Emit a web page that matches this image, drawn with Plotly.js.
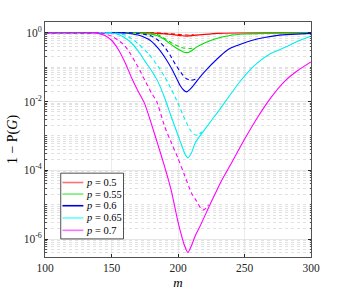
<!DOCTYPE html>
<html><head><meta charset="utf-8">
<script src="https://cdn.plot.ly/plotly-3.0.1.min.js"></script>
<style>html,body{margin:0;padding:0;background:#fff}#c{width:344px;height:290px}</style>
</head><body><div id="c"></div>
<script>
// log10 values of 1 - P(G)
const m_r = [100,175,185,195,203,207,212,220,230,245,300];
const y_r = [0,0,-0.02,-0.05,-0.09,-0.10,-0.08,-0.05,-0.02,-0.01,0];
const m_rd = [100,180,190,200,207,212];
const y_rd = [0,0,-0.02,-0.05,-0.07,-0.06];

const m_g = [100,165,175,184,190,194,198,201.5,204,207,210,214,220,229,239,250,265,300];
const y_g = [0,0,-0.02,-0.08,-0.2,-0.32,-0.43,-0.51,-0.56,-0.58,-0.53,-0.42,-0.3,-0.17,-0.08,-0.04,-0.02,0];
const m_gd = [100,170,180,185,190,195,201.5,205,208,211];
const y_gd = [0,0,-0.02,-0.06,-0.17,-0.29,-0.42,-0.45,-0.46,-0.45];

const m_b = [100,155,160,165,170,175,179,185,191.5,196,201.5,204,206.5,209,212,216.5,222,229,235,240,248,256,265,275,285,300];
const y_b = [0,0,-0.01,-0.03,-0.07,-0.14,-0.22,-0.45,-0.8,-1.1,-1.53,-1.66,-1.72,-1.65,-1.52,-1.29,-1.05,-0.78,-0.57,-0.44,-0.32,-0.22,-0.14,-0.08,-0.05,-0.02];
const m_bd = [100,160,170,175,180,185,190,194,198,202.8,206,209,212,214.5];
const y_bd = [0,0,-0.02,-0.05,-0.1,-0.22,-0.42,-0.65,-0.92,-1.19,-1.33,-1.38,-1.37,-1.33];

const m_c = [100,145,150,155,160,165,171.5,175,180,185,190,195,200,203,205.5,207.5,210,213,216.5,221.5,230,239,245,254,260,270,281,290,300];
const y_c = [0,0,-0.01,-0.05,-0.15,-0.3,-0.61,-0.82,-1.1,-1.43,-1.9,-2.45,-2.98,-3.3,-3.55,-3.64,-3.5,-3.2,-3.0,-2.74,-2.3,-1.82,-1.5,-1.09,-0.87,-0.6,-0.42,-0.25,-0.1];
const m_cd = [100,150,155,160,165,170,177.8,185,190,195.3,200,205,209,212,214,216,218];
const y_cd = [0,0,-0.02,-0.07,-0.17,-0.32,-0.61,-0.98,-1.28,-1.67,-2.05,-2.5,-2.82,-2.95,-2.98,-2.95,-2.88];

const m_m = [100,135,140,145,150,155,160,165,170,175,180,185,190,195,200,203,205,207.5,210,213,216.5,224,233,240,250,260,270,280,290,300];
const y_m = [0,0,-0.02,-0.08,-0.22,-0.48,-0.85,-1.3,-1.7,-2.07,-2.65,-3.27,-3.9,-4.6,-5.5,-5.95,-6.2,-6.39,-6.2,-5.9,-5.63,-5.0,-4.28,-3.8,-3.1,-2.45,-1.88,-1.42,-1.1,-0.85];
const m_md = [100,140,145,150,155,160,164,170,175,180,184,190,195,200,205,210,214,217,219,221,223];
const y_md = [0,0,-0.03,-0.1,-0.22,-0.38,-0.6,-1.0,-1.38,-1.75,-2.0,-2.73,-3.2,-3.65,-4.15,-4.65,-4.9,-5.1,-5.15,-5.1,-5.0];

const names = ['<i>p</i> = 0.5','<i>p</i> = 0.55','<i>p</i> = 0.6','<i>p</i> = 0.65','<i>p</i> = 0.7'];
const colors = ['#ff0000','#00dd00','#0000ee','#00eeee','#ff00ff'];
const legendColors = ['#ff7070','#70f070','#0000dd','#60ffff','#ff70ff'];
const solid = [[m_r,y_r],[m_g,y_g],[m_b,y_b],[m_c,y_c],[m_m,y_m]];
const dashed = [[m_rd,y_rd],[m_gd,y_gd],[m_bd,y_bd],[m_cd,y_cd],[m_md,y_md]];

const pow = a => a.map(v => Math.pow(10, v));
const traces = [];
for (let i = 0; i < 5; i++) {
  traces.push({x: solid[i][0], y: pow(solid[i][1]), type:'scatter', mode:'lines', line:{color:colors[i], width:1.1, shape:'spline', smoothing:0.5}, name:names[i], showlegend:false});
}
for (let i = 0; i < 5; i++) {
  traces.push({x: dashed[i][0], y: pow(dashed[i][1]), type:'scatter', mode:'lines', line:{color:colors[i], width:1.1, dash:'4px,3px', shape:'spline', smoothing:0.5}, showlegend:false});
}

const minorVals = [];
for (let e = -7; e <= 0; e++) for (let k = 1; k <= 9; k++) { if (k === 1 && e % 2 === 0) continue; minorVals.push(k*Math.pow(10,e)); }

// hand-built legend box (layout only)
const px = v => (v-44.5)/267, py = v => (257.5-v)/236;
const shapes = [{type:'rect', xref:'paper', yref:'paper', x0:px(60.3), x1:px(123.3), y0:py(239.3), y1:py(173.3), line:{color:'#262626', width:0.8}, fillcolor:'#fff', layer:'above'}];
const annotations = [];
const rowsY = [182.7,194.3,206,218.3,230.7];
for (let i = 0; i < 5; i++) {
  shapes.push({type:'line', xref:'paper', yref:'paper', x0:px(62), x1:px(83), y0:py(rowsY[i]), y1:py(rowsY[i]), line:{color:legendColors[i], width:1.6}, layer:'above'});
  annotations.push({xref:'paper', yref:'paper', x:px(83.5), y:py(rowsY[i]), xanchor:'left', yanchor:'middle', text:names[i], showarrow:false, font:{family:'Liberation Serif, DejaVu Serif, serif', size:10.5, color:'#000'}});
}

const serif = 'Liberation Serif, DejaVu Serif, serif';
const layout = {
  width:344, height:290,
  margin:{l:44.5, r:32.5, t:21.5, b:32.5},
  paper_bgcolor:'#fff', plot_bgcolor:'#fff',
  font:{family:serif, size:11, color:'#262626'},
  showlegend:false,
  shapes:shapes, annotations:annotations,
  xaxis:{range:[100,300], tickvals:[100,150,200,250,300], ticks:'inside', ticklen:3, tickcolor:'#262626', showline:true, linecolor:'#262626', linewidth:0.8, mirror:'ticks', showgrid:true, gridcolor:'#e0e0e0', gridwidth:0.6, zeroline:false,
    title:{text:'<i>m</i>', font:{family:serif, size:13, color:'#000'}, standoff:5}, tickfont:{family:serif, size:11.5}},
  yaxis:{type:'log', range:[-6.52,0.31], tickvals:[1,1e-2,1e-4,1e-6], ticktext:['10<sup>0</sup>','10<sup>-2</sup>','10<sup>-4</sup>','10<sup>-6</sup>'],
    ticks:'inside', ticklen:3, tickcolor:'#262626', showline:true, linecolor:'#262626', linewidth:0.8, mirror:'ticks', showgrid:true, gridcolor:'#dcdcdc', gridwidth:0.7, zeroline:false,
    minor:{tickvals:minorVals, ticks:'inside', ticklen:1.5, tickcolor:'#555', showgrid:true, gridcolor:'#d4d4d4', griddash:'dot', gridwidth:0.7},
    title:{text:'1 − P(<i>G</i>)', font:{family:serif, size:14, color:'#000'}, standoff:2}, tickfont:{family:serif, size:11.5}}
};
Plotly.newPlot('c', traces, layout, {staticPlot:true, displayModeBar:false});
</script></body></html>
